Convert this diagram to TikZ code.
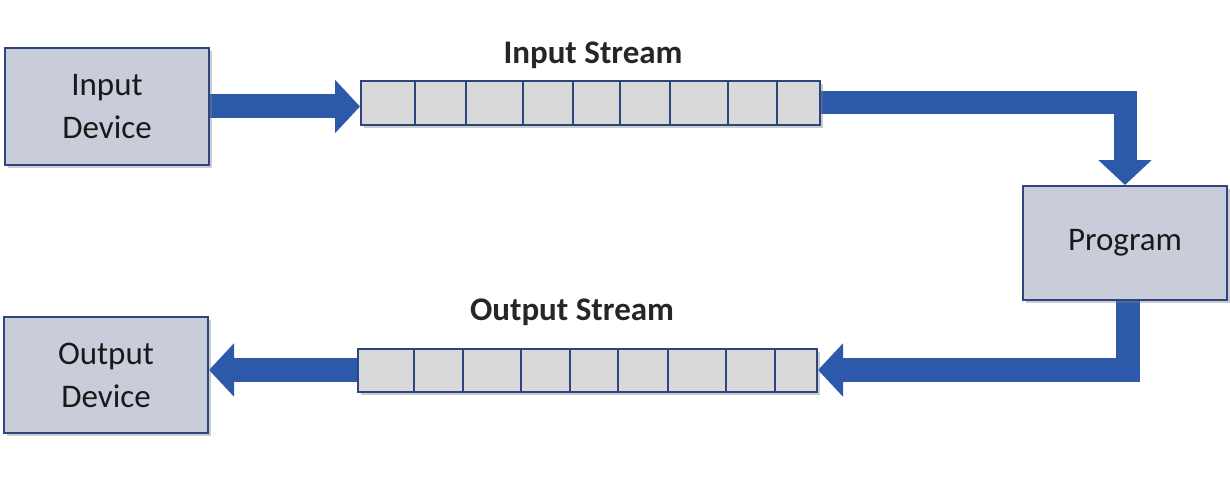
\documentclass[tikz,border=0pt]{standalone}
\usepackage{fontspec}
\setmainfont{Carlito}
\usetikzlibrary{arrows.meta,shadows,calc,backgrounds}
\definecolor{boxfill}{HTML}{C8CDD9}
\definecolor{boxline}{HTML}{2C4680}
\definecolor{cellfill}{HTML}{D9D9D9}
\definecolor{arrowblue}{HTML}{2D59AA}
\begin{document}
\begin{tikzpicture}[x=1pt,y=-1pt,
  device/.style={draw=boxline, line width=2pt, fill=boxfill, minimum width=204pt,
    minimum height=116pt, inner sep=0pt, align=center,
    font=\fontsize{33}{43}\selectfont, text=black!90,
    drop shadow={shadow xshift=3pt, shadow yshift=-3pt, opacity=0.4}},
  stream/.style={draw=boxline, line width=2pt, fill=cellfill, minimum width=459pt,
    minimum height=43pt, inner sep=0pt,
    drop shadow={shadow xshift=3pt, shadow yshift=-3pt, opacity=0.4}},
  divider/.style={draw=boxline, line width=1.3pt},
  label/.style={font=\fontsize{33}{40}\selectfont\bfseries, text=black!85},
  flow/.style={draw=arrowblue, line width=24pt, line join=miter,
    -{Triangle[length=25pt, width=52pt]}}
]
\useasboundingbox (0,0) rectangle (1230,500);

\node[device] (in) at (107,106.5) {Input\\Device};
\node[device] (out) at (106,375) {Output\\Device};
\node[device, minimum height=114pt] (prog) at (1125,243) {Program};

\node[stream] (istream) at (590.5,103) {};
\foreach \x in {415,466,523,573,620,670,728,777}
  \draw[divider] (\x,0 |- istream.north) -- (\x,0 |- istream.south);
\node[stream] (ostream) at (587.5,370) {};
\foreach \x in {414,463,521,570,618,668,726,775}
  \draw[divider] (\x,0 |- ostream.north) -- (\x,0 |- ostream.south);

\node[label] (ilabel) at (593,55) {Input Stream};
\node[label] (olabel) at (572,312) {Output Stream};

\begin{scope}[on background layer]
  \draw[flow] (in.east) -- (in.east -| istream.west);
  \draw[flow, line width=23pt] (istream.east) -- (istream.east -| prog.north) -- (prog.north);
  \draw[flow] ($(prog.south)+(3,0)$) |- (ostream.east);
  \draw[flow] (ostream.west) -- (ostream.west -| out.east);
\end{scope}
\end{tikzpicture}
\end{document}
